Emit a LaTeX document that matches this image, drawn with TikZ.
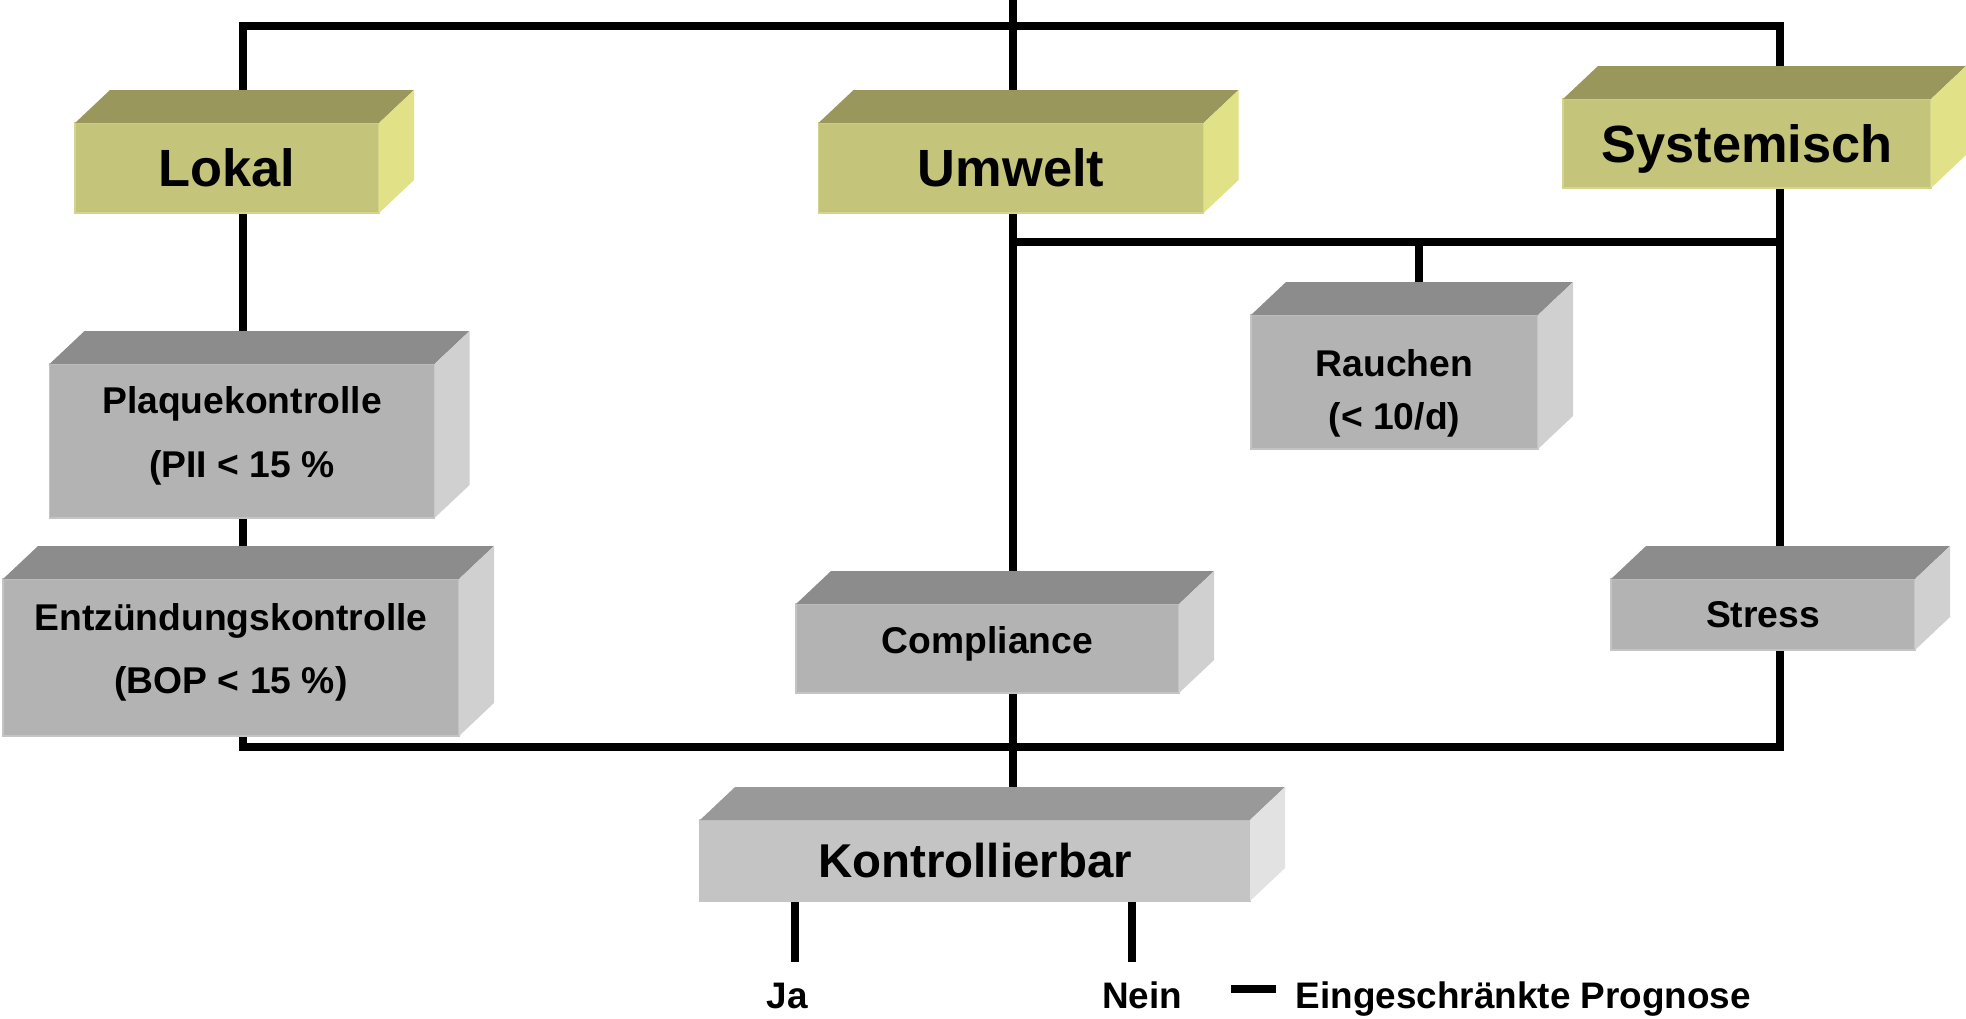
\documentclass[tikz,border=0pt]{standalone}
\usepackage{fontspec}
\setmainfont{Liberation Sans}
\usetikzlibrary{backgrounds}

\definecolor{olivefront}{RGB}{196,196,122}
\definecolor{olivetop}{RGB}{153,151,92}
\definecolor{oliveside}{RGB}{225,225,135}
\definecolor{oliveedge}{RGB}{212,212,140}
\definecolor{grayfront}{RGB}{179,179,179}
\definecolor{graytop}{RGB}{140,140,140}
\definecolor{grayside}{RGB}{208,208,208}
\definecolor{grayedge}{RGB}{196,196,196}
\definecolor{lightfront}{RGB}{196,196,196}
\definecolor{lighttop}{RGB}{153,153,153}
\definecolor{lightside}{RGB}{226,226,226}

\begin{document}
\begin{tikzpicture}[
        box/.style={rectangle, inner sep=0pt, outer sep=0pt, align=center, fill=grayfront, draw=grayedge, line width=0.5pt, font=\bfseries\fontsize{10.6}{18}\selectfont},
        bigbox/.style={box, fill=olivefront, draw=oliveedge, font=\bfseries\fontsize{14.9}{18}\selectfont},
        link/.style={line width=2.2pt},
        caption/.style={anchor=base, inner sep=0pt, font=\bfseries\fontsize{10.5}{12}\selectfont}
    ]
        \useasboundingbox (0,0) rectangle (19.66,-10.18);

        \node[bigbox, minimum width=3.04cm, minimum height=0.90cm] (lokal) at (2.27,-1.68) {Lokal};
        \node[bigbox, minimum width=3.85cm, minimum height=0.90cm] (umwelt) at (10.11,-1.68) {Umwelt};
        \node[bigbox, minimum width=3.68cm, minimum height=0.89cm, text depth=0pt] (systemisch) at (17.47,-1.435) {Systemisch};

        \node[box, minimum width=3.85cm, minimum height=1.54cm, text depth=0.18cm] (plaque) at (2.42,-4.41) {Plaquekontrolle\\(PII < 15 \%};
        \node[box, minimum width=4.56cm, minimum height=1.57cm, text depth=0.18cm] (entz) at (2.31,-6.575) {Entzündungskontrolle\\(BOP < 15 \%)};
        \node[box, minimum width=2.87cm, minimum height=1.34cm, text height=1.02cm, font=\bfseries\fontsize{10.6}{15}\selectfont] (rauchen) at (13.945,-3.82) {Rauchen\\(< 10/d)};
        \node[box, minimum width=3.83cm, minimum height=0.89cm, text depth=0.18cm] (compliance) at (9.875,-6.485) {Compliance};
        \node[box, minimum width=3.04cm, minimum height=0.71cm] (stress) at (17.63,-6.145) {Stress};
        \node[box, fill=lightfront, draw=lightfront, minimum width=5.50cm, minimum height=0.81cm, font=\bfseries\fontsize{13.5}{16}\selectfont] (kontrolle) at (9.75,-8.605) {Kontrollierbar};

        \foreach \nm/\tp/\sd in {lokal/olivetop/oliveside, umwelt/olivetop/oliveside, systemisch/olivetop/oliveside,
                plaque/graytop/grayside, entz/graytop/grayside, rauchen/graytop/grayside,
                compliance/graytop/grayside, stress/graytop/grayside, kontrolle/lighttop/lightside} {
            \fill[\tp] (\nm.north west) -- ++(0.35,0.33) -- ([shift={(0.35,0.33)}]\nm.north east) -- (\nm.north east) -- cycle;
            \fill[\sd] (\nm.north east) -- ++(0.35,0.33) -- ([shift={(0.35,0.33)}]\nm.south east) -- (\nm.south east) -- cycle;
        }

        \coordinate (tl) at (2.43,-0.26);
        \coordinate (tr) at (17.80,-0.26);
        \coordinate (bl) at (2.43,-7.47);
        \coordinate (br) at (17.80,-7.47);
        \coordinate (top) at (10.13,0);
        \coordinate (mid) at (10.13,-2.42);
        \coordinate (midr) at (17.80,-2.42);
        \coordinate (rj) at (14.19,-2.42);
        \coordinate (jaend) at (7.95,-9.62);
        \coordinate (neinend) at (11.32,-9.62);
        \coordinate (dasha) at (12.31,-9.89);
        \coordinate (dashb) at (12.76,-9.89);

        \node[caption] (ja) at (7.87,-10.08) {Ja};
        \node[caption] (nein) at (11.42,-10.08) {Nein};
        \node[caption, anchor=base west] (prognose) at (12.95,-10.08) {Eingeschränkte Prognose};

        \begin{scope}[on background layer]
            \draw[link] (bl) -- (tl) -- (tr) -- (br) -- cycle;
            \draw[link] (top) -- (top |- kontrolle.center);
            \draw[link] (mid) -- (midr);
            \draw[link] (rj) -- (rj |- rauchen.center);
            \draw[link] (jaend |- kontrolle.center) -- (jaend);
            \draw[link] (neinend |- kontrolle.center) -- (neinend);
        \end{scope}
        \draw[link] (dasha) -- (dashb);
    \end{tikzpicture}
\end{document}
